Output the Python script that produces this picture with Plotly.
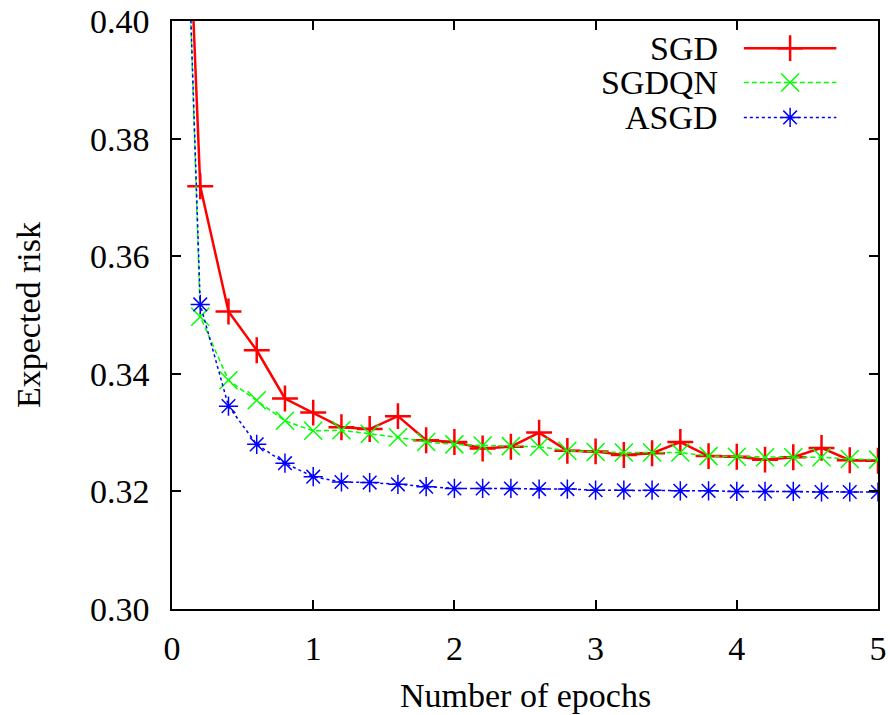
import plotly.graph_objects as go

epochs = [0.0, 0.2, 0.4, 0.6, 0.8, 1.0, 1.2, 1.4, 1.6, 1.8, 2.0, 2.2, 2.4, 2.6, 2.8, 3.0,
          3.2, 3.4, 3.6, 3.8, 4.0, 4.2, 4.4, 4.6, 4.8, 5.0]
sgd = [0.490, 0.3719, 0.3506, 0.3440, 0.3358, 0.3334, 0.3309, 0.3306, 0.3328, 0.3287,
       0.3284, 0.3273, 0.3276, 0.3300, 0.3269, 0.3268, 0.3262, 0.3265, 0.3284, 0.3260,
       0.3259, 0.3254, 0.3258, 0.3274, 0.3253, 0.3252]
sgdqn = [0.500, 0.3497, 0.3389, 0.3355, 0.3320, 0.3303, 0.3304, 0.3298, 0.3292, 0.3284,
         0.3280, 0.3278, 0.3277, 0.3276, 0.3269, 0.3267, 0.3266, 0.3266, 0.3266, 0.3260,
         0.3259, 0.3258, 0.3258, 0.3258, 0.3255, 0.3254]
asgd = [0.498, 0.3518, 0.3345, 0.3280, 0.3248, 0.3225, 0.3216, 0.3215, 0.3212, 0.3208,
        0.3205, 0.3205, 0.3205, 0.3204, 0.3204, 0.3202, 0.3202, 0.3202, 0.3201, 0.3201,
        0.3200, 0.3200, 0.3200, 0.3199, 0.3199, 0.3199]

series_names = ["SGD", "SGDQN", "ASGD"]
series_data = [sgd, sgdqn, asgd]
x_ticks = [0, 1, 2, 3, 4, 5]
y_ticks = [0.30, 0.32, 0.34, 0.36, 0.38, 0.40]

FONT = "Liberation Serif"
FS = 34

styles = [
    dict(color="#ff0000", width=2.5, dash="solid", symbol="cross-thin-open", size=18.5, mlw=2.5),
    dict(color="#00ff00", width=1.5, dash="5px,3px", symbol="x-thin-open", size=18, mlw=1.5),
    dict(color="#0000ff", width=1.5, dash="3px,3px", symbol="asterisk-open", size=16, mlw=1.5),
]

fig = go.Figure()
for name, ys, st in zip(series_names, series_data, styles):
    fig.add_trace(go.Scatter(
        x=epochs, y=ys, name=name, mode="lines+markers",
        line=dict(color=st["color"], width=st["width"], dash=st["dash"]),
        marker=dict(symbol=st["symbol"], size=st["size"], color=st["color"],
                    line=dict(color=st["color"], width=st["mlw"])),
        cliponaxis=True, showlegend=False,
    ))

# Gnuplot-style key: text on the left, sample on the right
key_rows = [0.9538, 0.8955, 0.836]
key_x0, key_x1, key_text_x = 0.810, 0.941, 0.776
for name, st, ky in zip(series_names, styles, key_rows):
    fig.add_trace(go.Scatter(
        x=[key_x0, key_x1], y=[ky, ky], mode="lines", xaxis="x2", yaxis="y2",
        line=dict(color=st["color"], width=st["width"], dash=st["dash"]),
        showlegend=False, hoverinfo="skip"))
    fig.add_trace(go.Scatter(
        x=[(key_x0 + key_x1) / 2], y=[ky], mode="markers", xaxis="x2", yaxis="y2",
        marker=dict(symbol=st["symbol"], size=st["size"], color=st["color"],
                    line=dict(color=st["color"], width=st["mlw"])),
        showlegend=False, hoverinfo="skip"))
    fig.add_annotation(x=key_text_x, y=ky, xref="paper", yref="paper", text=name,
                       showarrow=False, xanchor="right", yanchor="middle",
                       font=dict(family=FONT, size=FS, color="black"))

axis_common = dict(
    showgrid=False, zeroline=False, showline=True, linecolor="black", linewidth=1.5,
    mirror="ticks", ticks="inside", ticklen=9, tickwidth=1.5, tickcolor="black",
    tickfont=dict(family=FONT, size=FS, color="black"), automargin=False,
    ticklabeloverflow="allow",
)

W, H = 890, 715
fig.update_layout(
    width=W, height=H,
    margin=dict(l=172, r=12, t=21, b=106, autoexpand=False),
    plot_bgcolor="white", paper_bgcolor="white",
    font=dict(family=FONT, size=FS, color="black"),
    xaxis=dict(range=[0, 5], tickvals=x_ticks, ticklabelstandoff=8, **axis_common),
    yaxis=dict(range=[0.30, 0.40], tickvals=y_ticks, tickformat=".2f",
               ticklabelstandoff=14, **axis_common),
    xaxis2=dict(range=[0, 1], overlaying="x", visible=False, fixedrange=True),
    yaxis2=dict(range=[0, 1], overlaying="y", visible=False, fixedrange=True),
    showlegend=False,
)

fig.add_annotation(x=0.5, y=0, xref="paper", yref="paper", text="Number of epochs",
                   showarrow=False, xanchor="center", yanchor="middle",
                   xshift=0, yshift=-86,
                   font=dict(family=FONT, size=FS, color="black"))
fig.add_annotation(x=0, y=0.5, xref="paper", yref="paper", text="Expected risk",
                   showarrow=False, xanchor="center", yanchor="middle", textangle=-90,
                   xshift=-144, yshift=0,
                   font=dict(family=FONT, size=FS, color="black"))

fig.write_html("out.html",
               config={"displayModeBar": False},
               post_script="document.body.style.margin='0';document.body.style.overflow='hidden';")
